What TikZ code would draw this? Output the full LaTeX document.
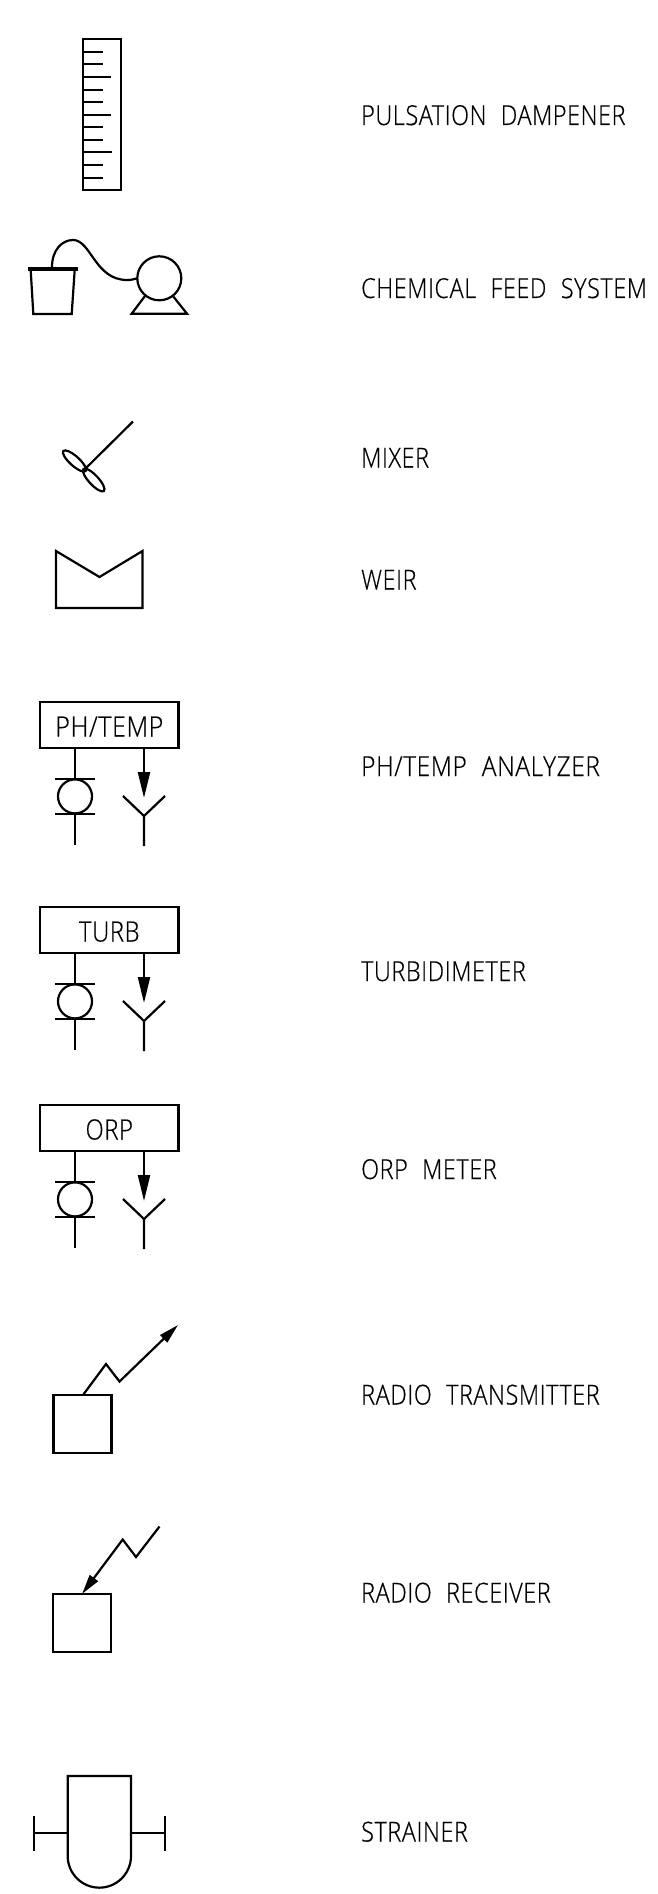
\documentclass[tikz,border=0pt]{standalone}
\usepackage{fontspec}
\usepackage{graphicx}
\setmainfont{Open Sans}[UprightFont=* Light,FakeStretch=0.85,LetterSpace=2.2,WordSpace=2.15,FakeBold=0.5]
\usetikzlibrary{arrows.meta,shapes.geometric}
\tikzset{
  ln/.style={line width=2.2pt,line join=miter,line cap=butt},
  sym/.style={draw,ln,inner sep=0pt,outer sep=0pt},
  lobe/.style={sym,ellipse,minimum width=30pt,minimum height=9.5pt},
  lbl/.style={anchor=base west,inner sep=0pt,font=\fontsize{27.5}{30}\selectfont},
  boxt/.style={sym,font=\fontsize{28}{30}\selectfont,minimum width=138.5pt,minimum height=46pt,text height=23pt,text depth=0pt},
  tipb/.style={-{Triangle[length=26pt,width=12pt]}},
  tipr/.style={-{Triangle[length=20pt,width=10pt]}}
}
\newcommand{\instr}[3]{%
  \node[boxt] (#2box) at (109.3,{725+#1}) {#3};
  \coordinate (#2a) at (75,{748+#1});
  \coordinate (#2b) at (75,{778.7+#1});
  \node[sym,circle,minimum size=34pt] (#2c) at (75,{796.4+#1}) {};
  \coordinate (#2d) at (75,{814+#1});
  \coordinate (#2e) at (75,{845+#1});
  \draw[ln] (#2a) -- (#2b) (#2d) -- (#2e);
  \draw[ln] (55,{778.7+#1}) -- (94.5,{778.7+#1}) (55,{814+#1}) -- (94.5,{814+#1});
  \coordinate (#2f) at (144,{748+#1});
  \coordinate (#2g) at (144,{798+#1});
  \draw[ln,tipb] (#2f) -- (#2g);
  \coordinate (#2y) at (144,{816+#1});
  \draw[ln] (123,{796+#1}) -- (#2y) -- (165,{796+#1}) (#2y) -- (144,{846+#1});
}
\begin{document}
\begin{tikzpicture}[x=1pt,y=-1pt]
\useasboundingbox[fill=white] (0,0) rectangle (658,1894);
% pulsation dampener
\node[sym,minimum width=37.4pt,minimum height=151pt] (damp) at (102,114.8) {};
\foreach \yy/\xx in {52/103.3,64.3/103.3,77/111,89.7/103.3,102.3/103.3,114.7/111,127.3/103.3,140/103.3,152.3/112,165/103.3,177.7/103.3}
  \draw[ln] (83.3,\yy) -- (\xx,\yy);
% chemical feed
\draw[line width=3.6pt] (27.5,269) -- (77.7,269);
\draw[ln] (30.7,270) -- (33.3,314) -- (71.7,314) -- (74.7,270);
\node[sym,circle,minimum size=44pt] (pump) at (159.3,278.3) {};
\coordinate (tube) at (52,267);
\draw[ln] (tube) .. controls (52,250) and (62,240) .. (73,240)
  .. controls (91,240) and (95,280) .. (127,280) .. controls (130,280) and (134,279.5) .. (pump.west);
\draw[ln] (145,296) -- (131.7,313.7) -- (187,313.7) -- (173.3,296.5);
% mixer
\coordinate (hub) at (84,470);
\coordinate (shaft) at (133,421.5);
\draw[ln] (shaft) -- (hub);
\node[lobe,rotate=-42] (l1) at (74.5,461) {};
\node[lobe,rotate=-47] (l2) at (93.7,480) {};
% weir
\draw[ln] (56,551) -- (56,608) -- (142.5,608) -- (142.5,551) -- (99.5,577) -- cycle;
% instruments
\instr{0}{ph}{\scalebox{1.05}[1]{PH/TEMP}}
\instr{205}{tu}{TURB}
\instr{403}{or}{ORP}
% radio transmitter
\node[sym,minimum width=58pt,minimum height=57.7pt] (tx) at (82.5,1423.8) {};
\coordinate (txa) at (83,1395);
\coordinate (txt) at (178,1325);
\draw[ln,tipr] (txa) -- (106,1364) -- (119.5,1381.5) -- (txt);
% radio receiver
\node[sym,minimum width=58pt,minimum height=58pt] (rx) at (82,1623) {};
\coordinate (rxa) at (159.5,1526.5);
\coordinate (rxt) at (82,1594);
\draw[ln,tipr] (rxa) -- (136,1557) -- (122.7,1539.5) -- (rxt);
% strainer
\draw[ln] (67.7,1776) -- (131,1776) -- (131,1856) arc[start angle=0,end angle=180,radius=31.65] -- cycle;
\coordinate (sl) at (67.7,1832.7);
\coordinate (sr) at (131,1832.7);
\draw[ln] (34,1832.7) -- (sl) (sr) -- (165,1832.7);
\draw[ln] (34,1815.5) -- (34,1851) (165,1815.5) -- (165,1851);
% labels
\node[lbl] (t1) at (361,125) {PULSATION DAMPENER};
\node[lbl] (t2) at (361,298) {CHEMICAL FEED SYSTEM};
\node[lbl] (t3) at (361,467.5) {MIXER};
\node[lbl] (t4) at (361,589.5) {WEIR};
\node[lbl] (t5) at (361,776) {\scalebox{1.045}[1]{PH/TEMP ANALYZER}};
\node[lbl] (t6) at (361,981) {TURBIDIMETER};
\node[lbl] (t7) at (361,1179) {ORP METER};
\node[lbl] (t8) at (361,1404.5) {RADIO TRANSMITTER};
\node[lbl] (t9) at (361,1602.5) {RADIO RECEIVER};
\node[lbl] (t10) at (361,1841.5) {STRAINER};
\end{tikzpicture}
\end{document}
